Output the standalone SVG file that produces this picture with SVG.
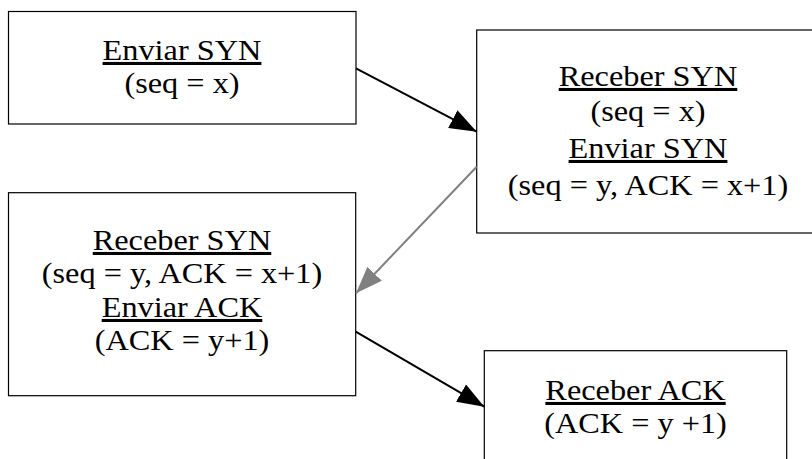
<svg xmlns="http://www.w3.org/2000/svg" width="812" height="459" viewBox="0 0 812 459">
  <style>
    .box { fill: #ffffff; stroke: #000000; stroke-width: 1.2; }
    .lbl { font-family: "Liberation Serif", "Times New Roman", serif; font-size: 30.5px; fill: #000000; text-anchor: middle; }
    .u { text-decoration: underline; }
    .edge { fill: none; stroke-width: 2; }
  </style>
  <defs>
    <marker id="arrowBlack" markerUnits="userSpaceOnUse" markerWidth="28" markerHeight="20" refX="27" refY="10" orient="auto">
      <path d="M0,0 L27,10 L0,20 z" fill="#000000"/>
    </marker>
    <marker id="arrowGray" markerUnits="userSpaceOnUse" markerWidth="28" markerHeight="20" refX="27" refY="10" orient="auto">
      <path d="M0,0 L27,10 L0,20 z" fill="#808080"/>
    </marker>
  </defs>
  <rect width="812" height="459" fill="#ffffff"/>

  <!-- labels are set in a slightly widened serif: each line is placed by translate, then stretched horizontally -->
  <g id="send-syn">
    <rect class="box" x="8.5" y="11.5" width="347.5" height="112.5"/>
    <text class="lbl" transform="translate(182 60) scale(1.06 1)"><tspan class="u">Enviar SYN</tspan></text>
    <text class="lbl" transform="translate(182 93) scale(1.06 1)">(seq = x)</text>
  </g>

  <g id="recv-syn-send-syn">
    <rect class="box" x="476.7" y="30" width="343" height="203"/>
    <text class="lbl" transform="translate(648 86) scale(1.06 1)"><tspan class="u">Receber SYN</tspan></text>
    <text class="lbl" transform="translate(648 121) scale(1.06 1)">(seq = x)</text>
    <text class="lbl" transform="translate(648 158) scale(1.06 1)"><tspan class="u">Enviar SYN</tspan></text>
    <text class="lbl" transform="translate(648 195) scale(1.06 1)">(seq = y, ACK = x+1)</text>
  </g>

  <g id="recv-syn-send-ack">
    <rect class="box" x="8.5" y="192.7" width="347.2" height="203"/>
    <text class="lbl" transform="translate(182 250) scale(1.06 1)"><tspan class="u">Receber SYN</tspan></text>
    <text class="lbl" transform="translate(182 283) scale(1.06 1)">(seq = y, ACK = x+1)</text>
    <text class="lbl" transform="translate(182 317) scale(1.06 1)"><tspan class="u">Enviar ACK</tspan></text>
    <text class="lbl" transform="translate(182 350) scale(1.06 1)">(ACK = y+1)</text>
  </g>

  <g id="recv-ack">
    <rect class="box" x="484.3" y="350.7" width="302.4" height="130"/>
    <text class="lbl" transform="translate(635.5 400) scale(1.06 1)"><tspan class="u">Receber ACK</tspan></text>
    <text class="lbl" transform="translate(635.5 433) scale(1.06 1)">(ACK = y +1)</text>
  </g>

  <g id="connectors">
    <line class="edge" x1="356" y1="68.3" x2="476.7" y2="131.7" stroke="#000000" marker-end="url(#arrowBlack)"/>
    <line class="edge" x1="476.7" y1="166.7" x2="356" y2="293.3" stroke="#808080" marker-end="url(#arrowGray)"/>
    <line class="edge" x1="355.7" y1="331.7" x2="484.3" y2="406.7" stroke="#000000" marker-end="url(#arrowBlack)"/>
  </g>
</svg>
